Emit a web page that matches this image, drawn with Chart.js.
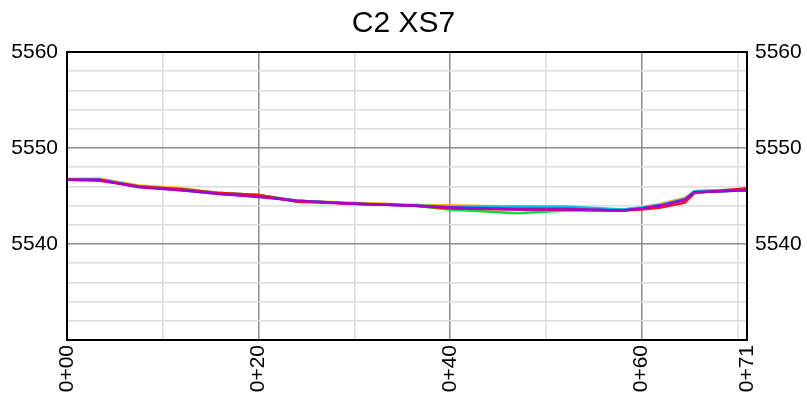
<!DOCTYPE html>
<html>
<head>
<meta charset="utf-8">
<script src="https://cdn.jsdelivr.net/npm/chart.js@4"></script>
<style>
  body { margin: 0; background: #fff; }
  #wrap { width: 807px; height: 401px; }
</style>
</head>
<body>
<div id="wrap"><canvas id="xs"></canvas></div>
<script>
// station (ft) along the cross section
const stations = [0, 3.4, 7.5, 12, 16, 20, 24, 30, 36, 40, 47, 52, 58, 60, 62, 64.5, 65.5, 71];

// surveyed elevations, one list per survey
const elevOrange = [5546.8, 5546.8, 5546.1, 5545.8, 5545.3, 5545.1, 5544.5, 5544.3, 5544.1, 5544.0, 5543.9, 5543.8, 5543.6, 5543.8, 5544.2, 5544.8, 5545.5, 5545.7];
const elevGreen  = [5546.7, 5546.7, 5546.0, 5545.7, 5545.3, 5545.1, 5544.5, 5544.2, 5544.0, 5543.6, 5543.2, 5543.5, 5543.5, 5543.7, 5544.0, 5544.6, 5545.4, 5545.6];
const elevCyan   = [5546.7, 5546.7, 5546.0, 5545.6, 5545.3, 5545.0, 5544.5, 5544.2, 5544.0, 5543.9, 5543.9, 5543.9, 5543.6, 5543.8, 5544.1, 5544.7, 5545.5, 5545.7];
const elevBlue   = [5546.7, 5546.7, 5546.0, 5545.6, 5545.2, 5545.0, 5544.5, 5544.2, 5544.0, 5543.8, 5543.7, 5543.7, 5543.5, 5543.7, 5544.0, 5544.6, 5545.4, 5545.6];
const elevRed    = [5546.7, 5546.6, 5546.0, 5545.7, 5545.3, 5545.1, 5544.4, 5544.2, 5544.0, 5543.7, 5543.6, 5543.6, 5543.5, 5543.6, 5543.8, 5544.3, 5545.3, 5545.8];
const elevPurple = [5546.7, 5546.7, 5545.9, 5545.6, 5545.2, 5544.9, 5544.5, 5544.2, 5544.0, 5543.8, 5543.6, 5543.6, 5543.5, 5543.7, 5544.0, 5544.6, 5545.4, 5545.6];

const xTicks = [0, 10, 20, 30, 40, 50, 60, 70, 71];
const xLabelled = [0, 20, 40, 60, 71];
const yTicks = [5530, 5532, 5534, 5536, 5538, 5540, 5542, 5544, 5546, 5548, 5550, 5552, 5554, 5556, 5558, 5560];
const yLabelled = [5540, 5550, 5560];

function pts(ys) {
  return stations.map(function (s, i) { return { x: s, y: ys[i] }; });
}
function series(ys, col) {
  return { data: pts(ys), borderColor: col, borderWidth: 2.5, pointRadius: 0, showLine: true, fill: false, tension: 0 };
}
function sta(v) {
  let s = String(Math.round(v));
  if (s.length < 2) s = "0" + s;
  return "0+" + s;
}
function setTicks(list) {
  return function (s) { s.ticks = list.map(function (v) { return { value: v }; }); };
}

const frame = {
  id: "frame",
  afterDatasetsDraw(chart) {
    const a = chart.chartArea, c = chart.ctx;
    c.save();
    c.strokeStyle = "#000";
    c.lineWidth = 2;
    c.strokeRect(a.left, a.top, a.right - a.left, a.bottom - a.top);
    c.restore();
  }
};

const fam = "Liberation Sans, Arial, sans-serif";

new Chart(document.getElementById("xs"), {
  type: "scatter",
  data: {
    // first dataset ends up on top
    datasets: [
      series(elevPurple, "#a800d0"),
      series(elevRed, "#ff1010"),
      series(elevBlue, "#3060ff"),
      series(elevCyan, "#00c8f0"),
      series(elevGreen, "#00e040"),
      series(elevOrange, "#ffb000")
    ]
  },
  options: {
    responsive: true,
    maintainAspectRatio: false,
    animation: false,
    layout: { padding: 0 },
    plugins: {
      legend: { display: false },
      tooltip: { enabled: false },
      title: {
        display: true,
        text: "C2 XS7",
        color: "#000",
        font: { family: fam, size: 30, weight: "normal", lineHeight: 1.2 },
        padding: { top: 6, bottom: 10 }
      }
    },
    scales: {
      x: {
        type: "linear",
        min: 0,
        max: 71,
        afterBuildTicks: setTicks(xTicks),
        afterFit(s) { s.height = 61; },
        ticks: {
          autoSkip: false,
          minRotation: 90,
          maxRotation: 90,
          padding: 5,
          color: "#000",
          font: { family: fam, size: 21 },
          callback(v) { return xLabelled.indexOf(v) >= 0 ? sta(v) : ""; }
        },
        grid: {
          drawTicks: false,
          lineWidth: 1.5,
          color(c) { return c.tick && c.tick.value % 20 === 0 ? "#8c8c8c" : "#dcdcdc"; }
        },
        border: { color: "#000", width: 2 }
      },
      y: {
        position: "left",
        min: 5530,
        max: 5560,
        afterBuildTicks: setTicks(yTicks),
        afterFit(s) { s.width = 67; },
        ticks: {
          autoSkip: false,
          padding: 9,
          color: "#000",
          font: { family: fam, size: 21 },
          callback(v) { return yLabelled.indexOf(v) >= 0 ? String(v) : ""; }
        },
        grid: {
          drawTicks: false,
          lineWidth: 1.5,
          color(c) { return c.tick && c.tick.value % 10 === 0 ? "#8c8c8c" : "#dcdcdc"; }
        },
        border: { color: "#000", width: 2 }
      },
      y2: {
        position: "right",
        min: 5530,
        max: 5560,
        afterBuildTicks: setTicks(yTicks),
        afterFit(s) { s.width = 60; },
        ticks: {
          autoSkip: false,
          padding: 8,
          color: "#000",
          font: { family: fam, size: 21 },
          callback(v) { return yLabelled.indexOf(v) >= 0 ? String(v) : ""; }
        },
        grid: { drawOnChartArea: false, drawTicks: false },
        border: { color: "#000", width: 2 }
      }
    }
  },
  plugins: [frame]
});
</script>
</body>
</html>
